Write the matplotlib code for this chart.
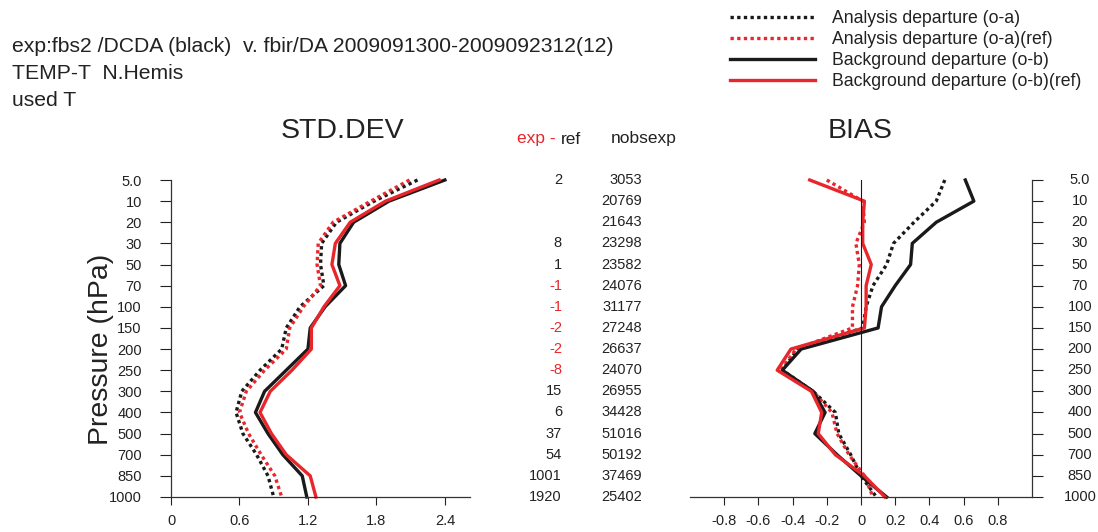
import matplotlib
matplotlib.use("Agg")
import matplotlib.pyplot as plt
from matplotlib.lines import Line2D
from matplotlib.transforms import blended_transform_factory

plt.rcParams["font.family"] = ["Liberation Sans", "DejaVu Sans"]

# pressure levels (hPa), top to bottom
levels = ["5.0", "10", "20", "30", "50", "70", "100", "150", "200",
          "250", "300", "400", "500", "700", "850", "1000"]

# STD.DEV
std_oa = [2.16, 1.78, 1.45, 1.32, 1.31, 1.34, 1.13, 1.01, 0.97, 0.78, 0.62, 0.57, 0.63, 0.75, 0.85, 0.90]
std_oa_ref = [2.09, 1.75, 1.42, 1.29, 1.28, 1.31, 1.16, 1.04, 1.01, 0.82, 0.66, 0.60, 0.68, 0.79, 0.91, 0.97]
std_ob = [2.40, 1.91, 1.60, 1.48, 1.47, 1.53, 1.35, 1.22, 1.20, 1.01, 0.82, 0.74, 0.85, 0.98, 1.15, 1.19]
std_ob_ref = [2.35, 1.88, 1.57, 1.44, 1.41, 1.48, 1.34, 1.23, 1.23, 1.06, 0.87, 0.78, 0.88, 1.01, 1.22, 1.27]

# BIAS
bias_oa = [0.49, 0.44, 0.31, 0.19, 0.15, 0.07, 0.03, 0.01, -0.37, -0.46, -0.28, -0.15, -0.13, -0.06, 0.00, 0.09]
bias_oa_ref = [-0.20, 0.01, 0.02, -0.03, -0.01, -0.02, -0.05, -0.05, -0.38, -0.47, -0.28, -0.17, -0.14, -0.07, 0.02, 0.07]
bias_ob = [0.61, 0.66, 0.44, 0.30, 0.29, 0.20, 0.12, 0.10, -0.35, -0.46, -0.28, -0.21, -0.27, -0.14, 0.00, 0.15]
bias_ob_ref = [-0.30, 0.02, 0.01, 0.01, 0.06, 0.03, 0.03, 0.02, -0.41, -0.49, -0.29, -0.23, -0.25, -0.15, 0.02, 0.14]

# columns
exp_minus_ref = ["2", "", "", "8", "1", "-1", "-1", "-2", "-2", "-8", "15", "6", "37", "54", "1001", "1920"]
nobsexp = ["3053", "20769", "21643", "23298", "23582", "24076", "31177", "27248",
           "26637", "24070", "26955", "34428", "51016", "50192", "37469", "25402"]

RED = "#e8262b"
BLK = "#1a1a1a"
TXT = "#222222"
W, H = 1098, 532
FS = 10.5

fig = plt.figure(figsize=(W / 100, H / 100), dpi=100)
ypos = list(range(len(levels)))

ax1 = fig.add_axes([171 / W, 1 - 497 / H, (470 - 171) / W, 317 / H])
ax2 = fig.add_axes([690 / W, 1 - 497 / H, (1032 - 690) / W, 317 / H])

dot = (0, (1, 1))
styles = [
    (std_oa, bias_oa, BLK, dot, "Analysis departure (o-a)"),
    (std_oa_ref, bias_oa_ref, RED, dot, "Analysis departure (o-a)(ref)"),
    (std_ob, bias_ob, BLK, "-", "Background departure (o-b)"),
    (std_ob_ref, bias_ob_ref, RED, "-", "Background departure (o-b)(ref)"),
]
handles = []
for s, b, c, ls, lab in styles:
    ax1.plot(s, ypos, color=c, ls=ls, lw=2.4, dash_capstyle="butt", clip_on=False)
    ax2.plot(b, ypos, color=c, ls=ls, lw=2.4, dash_capstyle="butt", clip_on=False)
    handles.append(Line2D([], [], color=c, ls=ls, lw=2.4, dash_capstyle="butt", label=lab))

for ax in (ax1, ax2):
    ax.set_ylim(15, 0)
    ax.set_yticks(ypos)
    ax.spines["top"].set_visible(False)
    ax.tick_params(axis="x", direction="out", length=6, width=0.8, labelsize=FS,
                   colors=TXT, pad=6)
    ax.tick_params(axis="y", direction="out", length=8, width=0.8, colors=TXT)
    for sp in ax.spines.values():
        sp.set_linewidth(0.9)
        sp.set_color("#333333")

# STD.DEV panel
ax1.spines["right"].set_visible(False)
ax1.set_xlim(0, 2.62)
ax1.set_xticks([0, 0.6, 1.2, 1.8, 2.4])
ax1.set_xticklabels(["0", "0.6", "1.2", "1.8", "2.4"])
ax1.set_yticklabels(levels, fontsize=FS)
ax1.tick_params(axis="y", pad=13)
fig.text(101 / W, 1 - 349 / H, "Pressure (hPa)", rotation=90, ha="center", va="center",
         fontsize=20.5, color=TXT)
fig.text(342 / W, 1 - 131 / H, "STD.DEV", ha="center", va="center", fontsize=20.5, color=TXT)

# BIAS panel
ax2.spines["left"].set_visible(False)
ax2.set_xlim(-1.0, 1.0)
ax2.set_xticks([-0.8, -0.6, -0.4, -0.2, 0, 0.2, 0.4, 0.6, 0.8])
ax2.set_xticklabels(["-0.8", "-0.6", "-0.4", "-0.2", "0", "0.2", "0.4", "0.6", "0.8"])
ax2.yaxis.tick_right()
ax2.set_yticklabels([])
ax2.axvline(0, color=BLK, lw=0.8)
fig.text(860 / W, 1 - 131 / H, "BIAS", ha="center", va="center", fontsize=20.5, color=TXT)
tr2 = ax2.get_yaxis_transform()
for y, lab in zip(ypos, levels):
    ax2.text(1.14, y, lab, transform=tr2, ha="center", va="center", fontsize=FS, color=TXT)

# middle columns
trm = blended_transform_factory(fig.transFigure, ax1.transData)
for y, d, n in zip(ypos, exp_minus_ref, nobsexp):
    col = RED if d.startswith("-") else TXT
    fig.text(562 / W, y, d, transform=trm, ha="right", va="center", fontsize=FS, color=col)
    fig.text(642 / W, y, n, transform=trm, ha="right", va="center", fontsize=FS, color=TXT)

hy = 1 - 139 / H
t = fig.text(517 / W, hy, "exp - ", ha="left", va="center", fontsize=12.5, color=RED)
fig.canvas.draw()
bb = t.get_window_extent()
fig.text(bb.x1 / W, hy, "ref", ha="left", va="center", fontsize=12.5, color=TXT)
fig.text(611 / W, hy, "nobsexp", ha="left", va="center", fontsize=12.5, color=TXT)

# header
fig.text(12 / W, 1 - 46 / H, "exp:fbs2 /DCDA (black)  v. fbir/DA 2009091300-2009092312(12)",
         ha="left", va="center", fontsize=15.2, color=TXT)
fig.text(12 / W, 1 - 73 / H, "TEMP-T  N.Hemis", ha="left", va="center", fontsize=15.2, color=TXT)
fig.text(12 / W, 1 - 100 / H, "used T", ha="left", va="center", fontsize=15.2, color=TXT)

fig.legend(handles=handles, loc="upper left", bbox_to_anchor=(730 / W, 1 - 10 / H),
           frameon=False, fontsize=12.7, handlelength=4.8, handletextpad=1.0,
           labelspacing=0.23, borderpad=0, borderaxespad=0, labelcolor=TXT)

fig.savefig("out.png", dpi=100)
